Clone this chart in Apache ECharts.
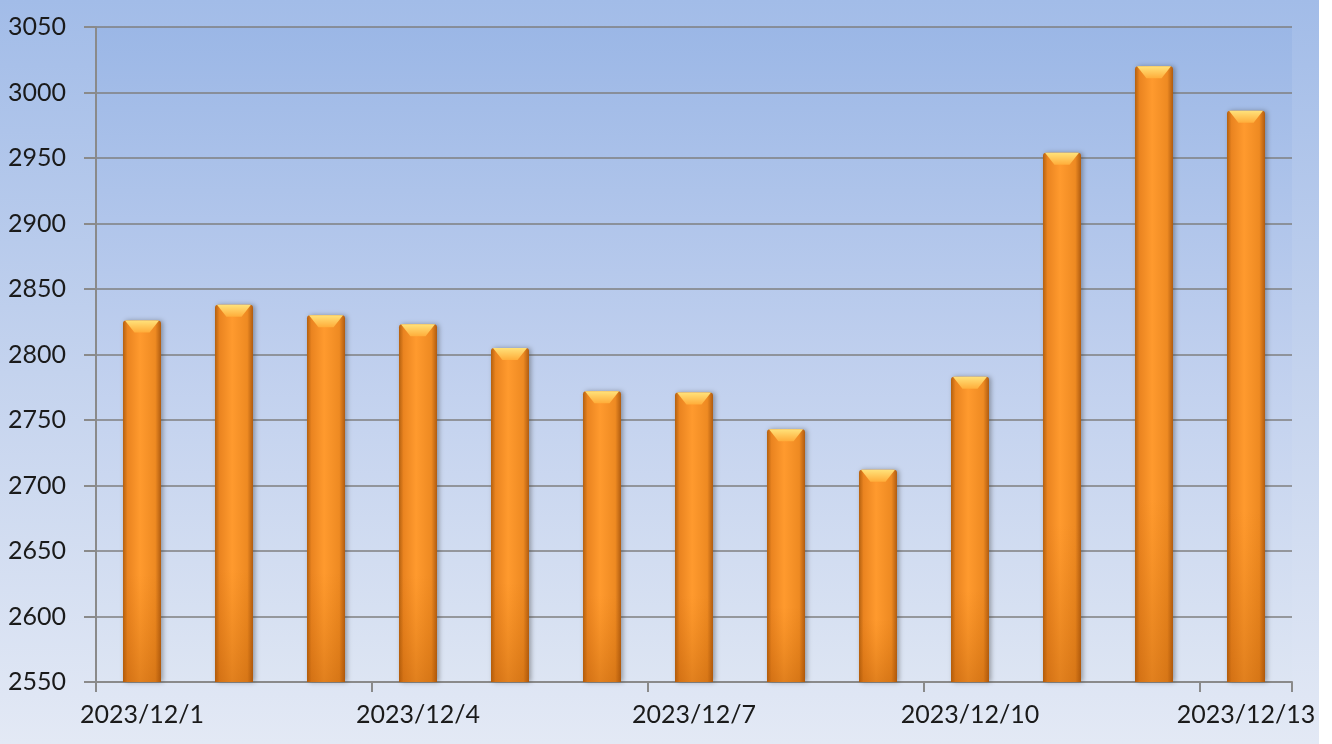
<!DOCTYPE html>
<html>
<head>
<meta charset="utf-8">
<script src="https://cdn.jsdelivr.net/npm/echarts@6/dist/echarts.min.js"></script>
<style>
html,body{margin:0;padding:0;background:#ffffff;}
#wrap{width:1319px;height:744px;background:linear-gradient(to bottom,#a2bce8 0%,#c4d3ee 50%,#e3e9f5 100%);overflow:visible;}
#chart{width:1332px;height:744px;}
</style>
</head>
<body>
<div id="wrap"><div id="chart"></div></div>
<script>
const categories = ['2023/12/1','2023/12/2','2023/12/3','2023/12/4','2023/12/5','2023/12/6','2023/12/7','2023/12/8','2023/12/9','2023/12/10','2023/12/11','2023/12/12','2023/12/13'];
const values = [2826, 2838, 2830, 2823, 2805, 2772, 2771, 2743, 2712, 2783, 2954, 3020, 2986];
const tickIndices = [0, 3, 6, 9, 12];
const yMin = 2550, yMax = 3050, yStep = 50;

const chart = echarts.init(document.getElementById('chart'), null, {renderer:'canvas'});
const font = 'Lato, "Open Sans", sans-serif';
chart.setOption({
  animation:false,
  backgroundColor:'transparent',
  grid:{left:96, right:40, top:27, bottom:62, show:true, borderWidth:0,
    backgroundColor:{type:'linear',x:0,y:0,x2:0,y2:1,colorStops:[{offset:0,color:'#9bb7e6'},{offset:0.5,color:'#bfcfee'},{offset:1,color:'#dde5f3'}]}},
  xAxis:{type:'category', data:categories, boundaryGap:true,
    axisLine:{show:true, lineStyle:{color:'#8a8a8a', width:2}},
    axisTick:{show:true, interval:function(i){return tickIndices.indexOf(i) >= 0;}, length:10, lineStyle:{color:'#8a8a8a', width:2}},
    axisLabel:{interval:2, color:'#1a1a1a', fontSize:25, fontFamily:font, margin:20}
  },
  yAxis:{type:'value', min:yMin, max:yMax, interval:yStep,
    axisLine:{show:true, lineStyle:{color:'#8a8a8a', width:2}},
    axisTick:{show:true, length:12, lineStyle:{color:'#8a8a8a', width:2}},
    splitLine:{lineStyle:{color:'#7f7f7f', width:1.5}},
    axisLabel:{color:'#1a1a1a', fontSize:25, fontFamily:font, margin:30, formatter:function(v){return String(v);}}
  },
  series:[
    {type:'bar', data:values, barWidth:38, z:2,
      itemStyle:{borderRadius:[3,3,0,0],
        shadowBlur:5, shadowColor:'rgba(60,60,60,0.45)', shadowOffsetX:2, shadowOffsetY:0,
        color:{type:'linear',x:0,y:0,x2:1,y2:0,colorStops:[
          {offset:0,color:'#b4600f'},{offset:0.12,color:'#ea8420'},{offset:0.45,color:'#ff9a2e'},
          {offset:0.85,color:'#ee8a22'},{offset:1,color:'#b05c10'}]}}
    },
    {type:'bar', data:values, barWidth:38, barGap:'-100%', z:3, silent:true,
      itemStyle:{borderRadius:[3,3,0,0],
        color:{type:'linear',x:0,y:0,x2:0,y2:1,colorStops:[
          {offset:0,color:'rgba(255,255,255,0)'},{offset:0.7,color:'rgba(200,100,0,0)'},{offset:1,color:'rgba(170,80,0,0.35)'}]}}
    },
    {type:'pictorialBar', data:values, symbol:'path://M0,0 L36,0 L26,12 L10,12 Z',
      symbolSize:[34,12], symbolPosition:'end', symbolOffset:[0,0], z:4, silent:true,
      itemStyle:{color:{type:'linear',x:0,y:0,x2:0,y2:1,colorStops:[{offset:0,color:'#ffe27a'},{offset:1,color:'#ffad3a'}]}}
    }
  ]
});
</script>
</body>
</html>
